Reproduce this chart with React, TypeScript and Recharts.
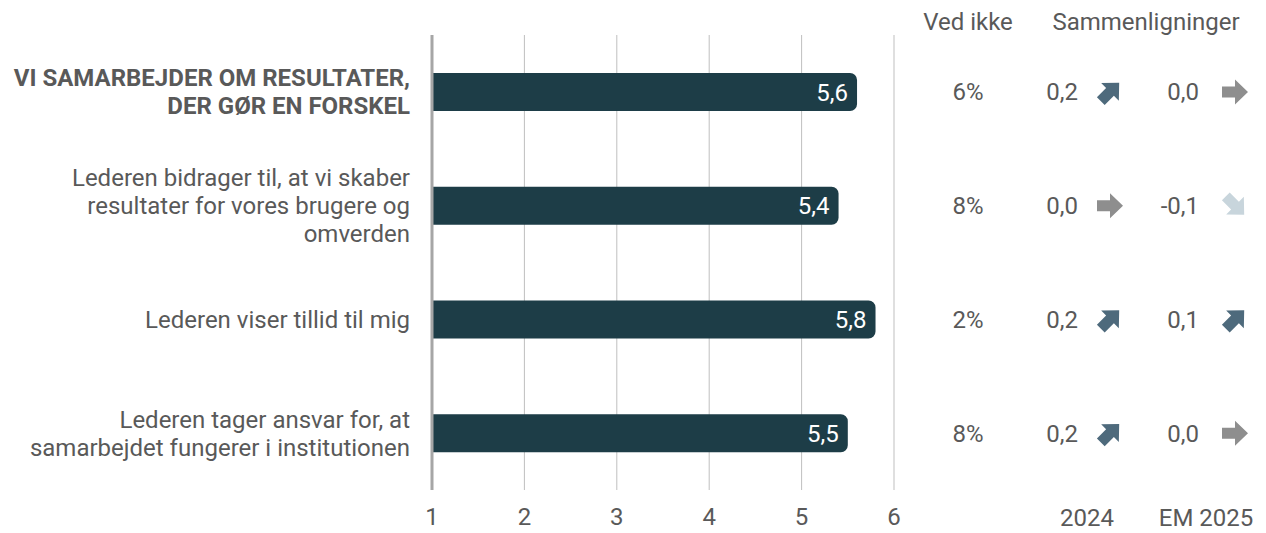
import React from "react";
import { Bar, BarChart, CartesianGrid, LabelList, XAxis, YAxis } from "recharts";

const categories = [
  "VI SAMARBEJDER OM RESULTATER,\nDER GØR EN FORSKEL",
  "Lederen bidrager til, at vi skaber\nresultater for vores brugere og\nomverden",
  "Lederen viser tillid til mig",
  "Lederen tager ansvar for, at\nsamarbejdet fungerer i institutionen",
];
const scores = [5.6, 5.4, 5.8, 5.5];
const vedIkke = [6, 8, 2, 8];
const diff2024 = [0.2, 0.0, 0.2, 0.2];
const diffEM2025 = [0.0, -0.1, 0.1, 0.0];
const xTicks = [1, 2, 3, 4, 5, 6];
const headerLabels = ["Ved ikke", "Sammenligninger"];
const footerLabels = ["2024", "EM 2025"];

const W = 1266;
const H = 533;
const TEXT = "#595959";
const FONT = "Roboto, sans-serif";
const FS = 24;

const data = categories.map((name, i) => ({
  name,
  score: scores[i],
  vedIkke: vedIkke[i],
  d2024: diff2024[i],
  dEM: diffEM2025[i],
}));

const fmt = (v: number) => v.toFixed(1).replace(".", ",");

function Arrow({ cx, cy, value }: { cx: number; cy: number; value: number }) {
  const color = value > 0 ? "#4e6a7c" : value < 0 ? "#c8d5dc" : "#8e8e8e";
  const rot = value > 0 ? -45 : value < 0 ? 45 : 0;
  return (
    <polygon
      points="-13,-5.5 0,-5.5 0,-12.5 13,0 0,12.5 0,5.5 -13,5.5"
      fill={color}
      transform={`translate(${cx},${cy}) rotate(${rot})`}
    />
  );
}

function RowTick(props: any) {
  const { y, payload } = props;
  const i = payload.index;
  const lines = String(payload.value).split("\n");
  const bold = i === 0;
  const lh = 28;
  const y0 = y - ((lines.length - 1) * lh) / 2;
  const row = data[i];
  return (
    <g fontFamily={FONT} fontSize={FS} fill={TEXT}>
      <text x={410} y={y0} textAnchor="end" fontWeight={bold ? 700 : 400} fill={TEXT}>
        {lines.map((l, k) => (
          <tspan key={k} x={410} y={y0 + k * lh} dy="0.35em">
            {l}
          </tspan>
        ))}
      </text>
      <text x={968} y={y} dy="0.35em" textAnchor="middle" fill={TEXT}>
        {row.vedIkke}%
      </text>
      <text x={1078} y={y} dy="0.35em" textAnchor="end" fill={TEXT}>
        {fmt(row.d2024)}
      </text>
      <Arrow cx={1110} cy={y} value={row.d2024} />
      <text x={1199} y={y} dy="0.35em" textAnchor="end" fill={TEXT}>
        {fmt(row.dEM)}
      </text>
      <Arrow cx={1235} cy={y} value={row.dEM} />
    </g>
  );
}

const overlay = (x: number, y: number, text: string, key: string) => (
  <div
    key={key}
    style={{
      position: "absolute",
      left: x,
      top: y,
      transform: "translate(-50%, -50%)",
      fontFamily: FONT,
      fontSize: FS,
      color: TEXT,
      whiteSpace: "nowrap",
      lineHeight: 1,
    }}
  >
    {text}
  </div>
);

export default function App() {
  return (
    <div style={{ position: "absolute", left: 0, top: 0, width: W, height: H, background: "#fff" }}>
      <BarChart
        width={W}
        height={H}
        data={data}
        layout="vertical"
        margin={{ top: 35, right: 372, bottom: 13, left: 0 }}
        barCategoryGap={0}
      >
        <CartesianGrid horizontal={false} stroke="#bfbfbf" />
        <XAxis
          type="number"
          domain={[1, 6]}
          ticks={xTicks}
          allowDataOverflow
          tickLine={false}
          axisLine={false}
          height={30}
          tickMargin={12}
          tick={{ fontSize: FS, fill: TEXT, fontFamily: FONT }}
        />
        <YAxis
          type="category"
          dataKey="name"
          width={432}
          tickLine={false}
          axisLine={{ stroke: "#a6a6a6", strokeWidth: 3 }}
          tick={<RowTick />}
        />
        <Bar dataKey="score" fill="#1d3d47" barSize={38} radius={[0, 7, 7, 0]} isAnimationActive={false}>
          <LabelList
            dataKey="score"
            position="insideRight"
            offset={9}
            formatter={(v: any) => fmt(Number(v))}
            style={{ fill: "#ffffff", fontSize: FS, fontFamily: FONT }}
          />
        </Bar>
      </BarChart>
      {overlay(968, 22, headerLabels[0], "h0")}
      {overlay(1146, 22, headerLabels[1], "h1")}
      {overlay(1087, 518, footerLabels[0], "f0")}
      {overlay(1206, 518, footerLabels[1], "f1")}
    </div>
  );
}
